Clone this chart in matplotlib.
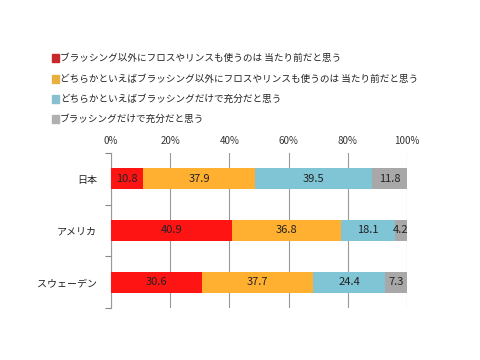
import matplotlib
matplotlib.use("Agg")
import matplotlib.pyplot as plt
from matplotlib.patches import Rectangle

plt.rcParams['font.family'] = ['Noto Sans CJK JP', 'DejaVu Sans']

categories = ['日本', 'アメリカ', 'スウェーデン']
series_names = [
    'ブラッシング以外にフロスやリンスも使うのは 当たり前だと思う',
    'どちらかといえばブラッシング以外にフロスやリンスも使うのは 当たり前だと思う',
    'どちらかといえばブラッシングだけで充分だと思う',
    'ブラッシングだけで充分だと思う',
]
values = [
    [10.8, 40.9, 30.6],
    [37.9, 36.8, 37.7],
    [39.5, 18.1, 24.4],
    [11.8, 4.2, 7.3],
]
colors = ['#FF1414', '#FFB030', '#7FC5D5', '#A8A8A8']
legend_colors = ['#C8282C', '#E8B040', '#88C0D0', '#B0B0B0']
xticks = [0, 20, 40, 60, 80, 100]
xtick_labels = ['0%', '20%', '40%', '60%', '80%', '100%']

fig = plt.figure(figsize=(4.8, 3.6), dpi=100)
ax = fig.add_axes([111/480, 1-308/360, (407-111)/480, (308-153)/360])

ypos = list(range(len(categories)))
left = [0.0]*len(categories)
for s, (vals, c) in enumerate(zip(values, colors)):
    ax.barh(ypos, vals, left=left, height=0.41, color=c, edgecolor='none', zorder=3)
    for y, v, l in zip(ypos, vals, left):
        ax.text(l + v/2, y, f'{v}', ha='center', va='center', fontsize=8,
                color='#222222', zorder=4)
    left = [a+b for a, b in zip(left, vals)]

ax.set_xlim(0, 100)
ax.set_ylim(len(categories)-0.5, -0.5)
ax.set_xticks(xticks)
ax.set_xticklabels(xtick_labels, fontsize=7, color='#333333')
ax.xaxis.tick_top()
ax.tick_params(axis='x', length=0, pad=5)
ax.set_yticks(ypos)
ax.set_yticklabels(categories, fontsize=7.2, color='#222222')
ax.tick_params(axis='y', length=0, pad=10)
ax.set_yticks([-0.5, 0.5, 1.5, 2.5], minor=True)
ax.tick_params(axis='y', which='minor', length=4, color='#888888', width=0.8)
ax.grid(axis='x', color='#999999', linewidth=0.8, zorder=0)
for sp in ['top', 'right', 'bottom']:
    ax.spines[sp].set_visible(False)
ax.spines['left'].set_color('#999999')
ax.spines['left'].set_linewidth(0.8)

# legend
rows_y = [58, 79, 99, 119]
for name, c, ry in zip(series_names, legend_colors, rows_y):
    fig.patches.append(Rectangle((52/480, 1-(ry+3.5)/360), 7/480, 7/360,
                                 transform=fig.transFigure, color=c, figure=fig))
    fig.text(60/480, 1-ry/360, name, fontsize=6.9, va='center', ha='left', color='#222222')

fig.savefig('out.png', dpi=100, facecolor='white')
